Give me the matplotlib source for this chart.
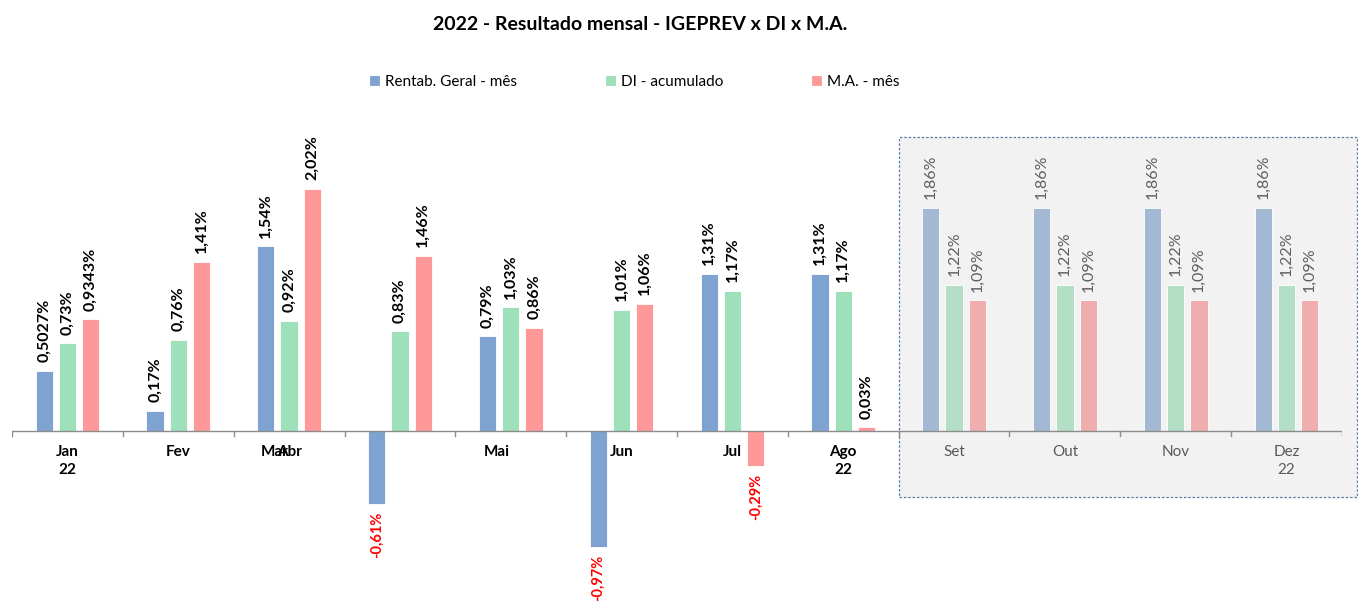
import matplotlib
matplotlib.use("Agg")
import matplotlib.pyplot as plt
from matplotlib.patches import Rectangle
import numpy as np

plt.rcParams['font.family'] = ['Lato', 'DejaVu Sans']

# ---- data ----
title = "2022 - Resultado mensal - IGEPREV x DI x M.A."
months = ['Jan', 'Fev', 'Mar', 'Abr', 'Mai', 'Jun', 'Jul', 'Ago', 'Set', 'Out', 'Nov', 'Dez']
year_row = ['22', '', '', '', '', '', '', '22', '', '', '', '22']
series_names = ['Rentab. Geral - mês', 'DI - acumulado', 'M.A. - mês']
rentab = [0.5027, 0.17, 1.54, -0.61, 0.79, -0.97, 1.31, 1.31, 1.86, 1.86, 1.86, 1.86]
di_acum = [0.73, 0.76, 0.92, 0.83, 1.03, 1.01, 1.17, 1.17, 1.22, 1.22, 1.22, 1.22]
ma_mes = [0.9343, 1.41, 2.02, 1.46, 0.86, 1.06, -0.29, 0.03, 1.09, 1.09, 1.09, 1.09]
n_realized = 8  # Jan..Ago realized, Set..Dez projected

# ---- styling ----
colors = ['#7fa3d1', '#9de0b9', '#ff9999']
colors_proj = ['#a2b8d3', '#b4dfc6', '#f0adad']
label_shift = [0, 0, -0.13, -1.0, -0.13, 0, 0, 0, 0, 0, 0, 0]

W, H = 1358, 601
fig = plt.figure(figsize=(W / 100, H / 100), dpi=100)
ax = fig.add_axes([12 / W, 1 / H, 1330 / W, 490 / H])
ppu = 120.0  # pixels per 1%
ax.set_ylim(-(600 - 431) / ppu, (431 - 110) / ppu)
ax.set_xlim(-0.5, 11.5)
ax.axis('off')

x = np.arange(len(months))
offsets = [-0.21, 0.0, 0.21]
bw = 0.155

# projected shaded area
ppx = 1330 / 12.0
rect = Rectangle((7.5, -(497 - 431) / ppu), (1357 - 12) / ppx - 0.5 - 7.5,
                 (497 - 137) / ppu, facecolor='#f2f2f2', edgecolor='#5c7ea8',
                 linestyle=(0, (2, 1.5)), linewidth=0.9, zorder=0, clip_on=False)
ax.add_patch(rect)

def fmt(v):
    dec = 2 if round(v, 2) == v else 4
    return (f"{v:.{dec}f}%").replace('.', ',')

for si, vals in enumerate([rentab, di_acum, ma_mes]):
    cols = [colors[si] if i < n_realized else colors_proj[si] for i in range(len(vals))]
    bars = ax.bar(x + offsets[si], vals, width=bw, color=cols, edgecolor='white',
                  linewidth=0.6, zorder=2, label=series_names[si])
    for i, (b, v) in enumerate(zip(bars, vals)):
        cx = b.get_x() + b.get_width() / 2
        if v >= 0:
            color = 'black' if i < n_realized else '#5f5f5f'
            weight = 'bold' if i < n_realized else 'normal'
            ax.annotate(fmt(v), (cx, v), xytext=(0, 6), textcoords='offset points',
                        rotation=90, ha='center', va='bottom', fontsize=11.5,
                        color=color, fontweight=weight, zorder=4)
        else:
            ax.annotate(fmt(v), (cx, v), xytext=(0, -5.5), textcoords='offset points',
                        rotation=90, ha='center', va='top', fontsize=10.5,
                        color='#ff0000', fontweight='bold', zorder=4, annotation_clip=False)

# axis line and ticks
ax.axhline(0, color='#8c8c8c', linewidth=1.0, zorder=3)
tick_len = 5 / ppu
for b in np.arange(-0.5, 12, 1.0):
    ax.plot([b, b], [0, -tick_len], color='#8c8c8c', linewidth=1.0, zorder=3)

# category labels
for i, m in enumerate(months):
    txt = m if not year_row[i] else m + "\n" + year_row[i]
    color = 'black' if i < n_realized else '#595959'
    weight = 'bold' if i < n_realized else 'normal'
    ax.text(x[i] + label_shift[i], -14 / ppu, txt, ha='center', va='top',
            fontsize=11, color=color, fontweight=weight, linespacing=1.4, zorder=4)

# title
fig.text(640 / W, 1 - 24 / H, title, ha='center', va='center', fontsize=14,
         fontweight='bold')

# legend
handles, labels = ax.get_legend_handles_labels()
leg = fig.legend(handles, labels, loc='center', bbox_to_anchor=(635 / W, 1 - 82 / H),
                 ncol=3, frameon=False, fontsize=11, handlelength=0.6, handleheight=0.6,
                 handletextpad=0.4, columnspacing=5.8)
for h, c in zip(leg.legend_handles, colors):
    h.set_facecolor(c)
    h.set_edgecolor(c)

fig.savefig('out.png', dpi=100)
